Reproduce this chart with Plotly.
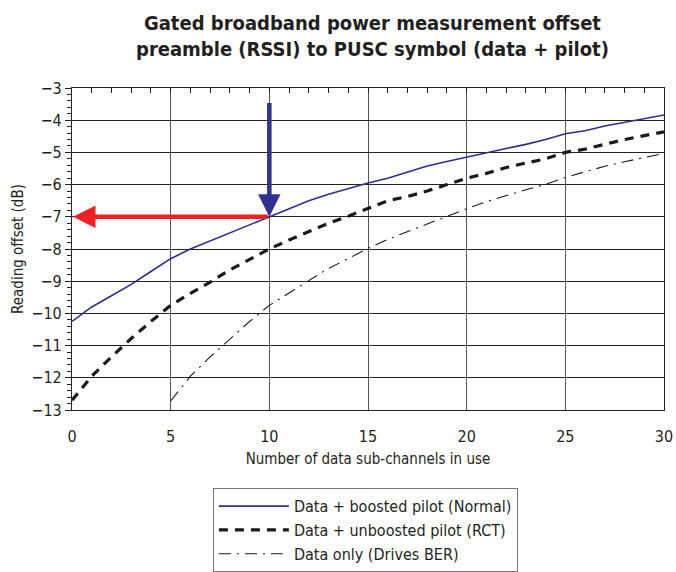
import plotly.graph_objects as go

# ---- data ----
x_all = list(range(0, 31))
normal = [-10.25, -9.8, -9.45, -9.1, -8.7, -8.3, -8.0, -7.75, -7.5, -7.25, -7.0,
          -6.75, -6.5, -6.3, -6.12, -5.95, -5.8, -5.6, -5.42, -5.28, -5.14,
          -5.0, -4.88, -4.75, -4.6, -4.42, -4.33, -4.18, -4.07, -3.95, -3.84]
rct = [-12.7, -11.95, -11.35, -10.78, -10.25, -9.75, -9.38, -9.03, -8.65, -8.32, -8.0,
       -7.72, -7.45, -7.2, -6.98, -6.75, -6.5, -6.37, -6.2, -6.0, -5.8,
       -5.65, -5.47, -5.33, -5.2, -5.0, -4.9, -4.75, -4.6, -4.48, -4.36]
x_data_only = list(range(5, 31))
data_only = [-12.72, -11.95, -11.35, -10.8, -10.25, -9.75, -9.37, -8.98, -8.6, -8.3,
             -7.98, -7.7, -7.46, -7.22, -6.98, -6.75, -6.53, -6.34, -6.16, -5.99,
             -5.78, -5.6, -5.43, -5.29, -5.16, -5.03]
names = ["Data + boosted pilot (Normal)", "Data + unboosted pilot (RCT)", "Data only (Drives BER)"]
x_ticks = [0, 5, 10, 15, 20, 25, 30]
y_ticks = [-3, -4, -5, -6, -7, -8, -9, -10, -11, -12, -13]
marker_x = 10
marker_y = -7
arrow_top_y = -3.42
title_lines = ["Gated broadband power measurement offset",
               "preamble (RSSI) to PUSC symbol (data + pilot)"]

FONT = "Liberation Sans Narrow, DejaVu Sans Condensed, Arial Narrow, sans-serif"
BLUE = "#2e3192"
RED = "#ed2024"

fig = go.Figure()
fig.add_trace(go.Scatter(x=x_all, y=normal, mode="lines", name=names[0],
                         line=dict(color="#2b2f8f", width=1.6)))
fig.add_trace(go.Scatter(x=x_all, y=rct, mode="lines", name=names[1],
                         line=dict(color="#1a1a1a", width=3.2, dash="9px,7px")))
fig.add_trace(go.Scatter(x=x_data_only, y=data_only, mode="lines", name=names[2],
                         line=dict(color="#1a1a1a", width=1.1, dash="12px,6px,2px,6px")))
# empty trace to carry the top axis
fig.add_trace(go.Scatter(x=[], y=[], xaxis="x2", showlegend=False, hoverinfo="skip"))

# arrows
fig.add_annotation(x=marker_x, y=marker_y, ax=marker_x, ay=arrow_top_y,
                   xref="x", yref="y", axref="x", ayref="y", text="",
                   showarrow=True, arrowhead=2, arrowsize=1.0, arrowwidth=4.5,
                   arrowcolor=BLUE)
fig.add_annotation(x=0.05, y=marker_y, ax=marker_x, ay=marker_y,
                   xref="x", yref="y", axref="x", ayref="y", text="",
                   showarrow=True, arrowhead=2, arrowsize=1.0, arrowwidth=4.5,
                   arrowcolor=RED)
# title
fig.add_annotation(text="<b>" + "<br>".join(title_lines) + "</b>",
                   xref="paper", yref="paper", x=0.507, y=1.163,
                   xanchor="center", yanchor="middle", showarrow=False,
                   font=dict(family=FONT, size=20, color="#231f20"))

fig.update_layout(
    width=676, height=572,
    margin=dict(l=72, r=12, t=88, b=162, autoexpand=False),
    paper_bgcolor="white", plot_bgcolor="white",
    font=dict(family=FONT, color="#231f20", size=15),
    xaxis=dict(range=[0, 30], tickvals=x_ticks, ticks="", showgrid=True,
               gridcolor="#555", gridwidth=1, showline=True, linecolor="#222",
               linewidth=1.2, mirror=True, zeroline=False, automargin=False,
               tickfont=dict(size=16), ticklabelstandoff=12,
               title=dict(text="Number of data sub-channels in use",
                          font=dict(size=15), standoff=8)),
    xaxis2=dict(range=[0, 30], overlaying="x", side="top", showticklabels=False,
                ticks="inside", ticklen=5, tickcolor="#222", tickvals=x_ticks,
                minor=dict(ticks="inside", ticklen=5, dtick=1, tickcolor="#222"),
                showgrid=False, zeroline=False, showline=False, automargin=False),
    yaxis=dict(range=[-13, -3], tickvals=y_ticks, ticks="outside", ticklen=6,
               tickcolor="#222", showgrid=True, gridcolor="#222", gridwidth=1,
               showline=True, linecolor="#222", linewidth=1.2, mirror=True,
               zeroline=False, tickfont=dict(size=16), automargin=False,
               minor=dict(ticks="outside", ticklen=4, dtick=0.2, tickcolor="#222",
                          showgrid=False),
               title=dict(text="Reading offset (dB)", font=dict(size=15), standoff=4)),
    legend=dict(x=0.238, xanchor="left", y=-0.243, yanchor="top",
                bgcolor="white", bordercolor="#777", borderwidth=1,
                font=dict(size=16, family=FONT), itemwidth=70,
                tracegroupgap=0),
    showlegend=True,
)

fig.write_html("out.html",
               config={"displayModeBar": False},
               post_script="document.body.style.margin='0px';"
                           "document.body.style.overflow='hidden';")
